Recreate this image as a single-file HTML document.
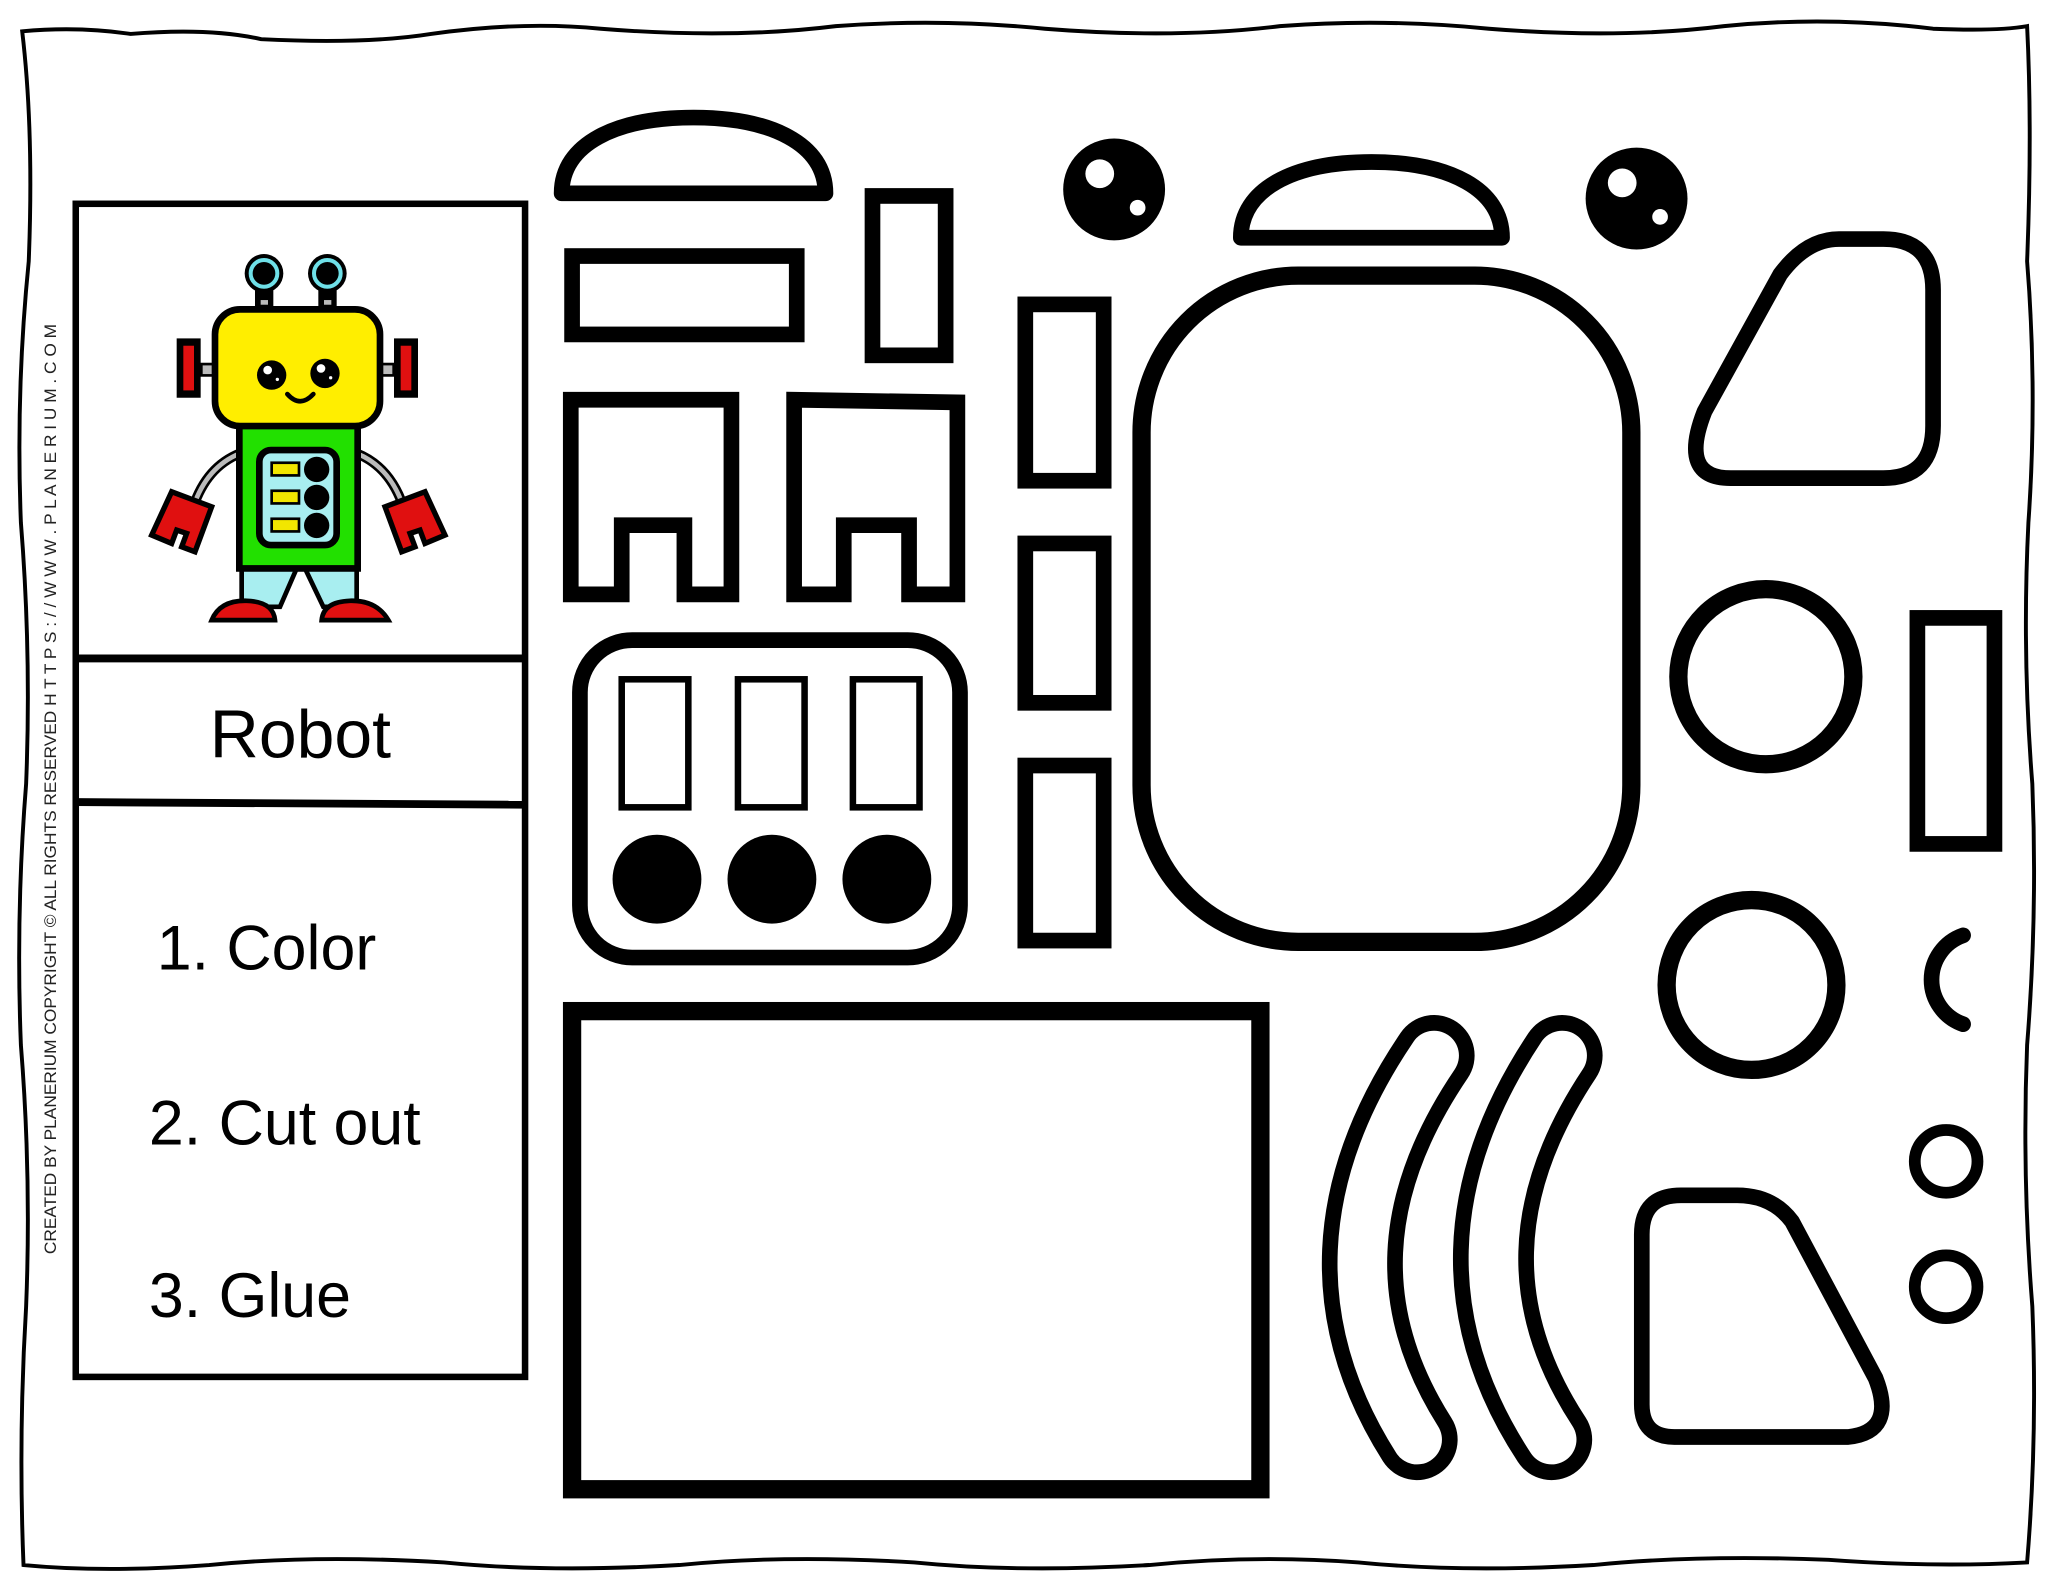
<!DOCTYPE html>
<html><head><meta charset="utf-8"><style>
html,body{margin:0;padding:0;background:#fff;}
svg{display:block;}
text{font-family:"Liberation Sans",sans-serif;}
</style></head><body>
<svg width="2048" height="1582" viewBox="0 0 1568 1211" preserveAspectRatio="none" xmlns="http://www.w3.org/2000/svg">
<rect width="1568" height="1211" fill="#fff"/>
<!-- wavy border -->
<path d="M17,24 Q60,20 100,26 Q160,21 200,30 Q280,34 330,26 Q400,16 460,22 Q560,30 640,20 Q720,14 800,22 Q900,30 980,20 Q1060,14 1140,22 Q1240,30 1320,20 Q1400,12 1480,22 Q1530,24 1552,20
 Q1556,100 1552,200 Q1560,300 1553,400 Q1548,500 1556,600 Q1560,700 1552,800 Q1548,900 1556,1000 Q1560,1100 1552,1196
 Q1480,1200 1400,1194 Q1300,1190 1220,1198 Q1120,1204 1040,1196 Q960,1190 880,1198 Q780,1204 700,1196 Q600,1190 520,1198 Q420,1204 340,1196 Q240,1190 160,1198 Q80,1204 18,1198
 Q14,1100 20,1000 Q24,900 16,800 Q12,700 20,600 Q24,500 16,400 Q12,300 22,200 Q26,100 17,24 Z" fill="none" stroke="#000" stroke-width="3"/>
<!-- left panel -->
<rect x="58" y="156" width="344" height="898" fill="none" stroke="#000" stroke-width="5"/>
<line x1="58" y1="504" x2="402" y2="504" stroke="#000" stroke-width="6"/>
<line x1="58" y1="614" x2="402" y2="616" stroke="#000" stroke-width="6"/>
<text x="230" y="580" font-size="52" text-anchor="middle">Robot</text>
<text x="120" y="742" font-size="48">1. Color</text>
<text x="114" y="876" font-size="48">2. Cut out</text>
<text x="114" y="1008" font-size="48">3. Glue</text>
<text transform="translate(43,960) rotate(-90)" font-size="13" textLength="712" lengthAdjust="spacingAndGlyphs" fill="#222">CREATED BY PLANERIUM COPYRIGHT © ALL RIGHTS RESERVED   H T T P S : / / W W W . P L A N E R I U M . C O M</text>
<!-- robot -->
<g transform="scale(0.765625) translate(140,240) scale(0.33333)">
 <rect x="345" y="140" width="55" height="80" fill="#000"/><rect x="362" y="180" width="22" height="14" fill="#bbb"/>
 <rect x="535" y="140" width="55" height="80" fill="#000"/><rect x="552" y="180" width="22" height="14" fill="#bbb"/>
 <circle cx="372" cy="100" r="58" fill="#000"/><circle cx="372" cy="100" r="40" fill="none" stroke="#6fe0e8" stroke-width="12"/>
 <circle cx="562" cy="100" r="58" fill="#000"/><circle cx="562" cy="100" r="40" fill="none" stroke="#6fe0e8" stroke-width="12"/>
 <rect x="110" y="295" width="72" height="178" fill="#000"/><rect x="130" y="317" width="32" height="134" fill="#e01010"/>
 <rect x="180" y="368" width="50" height="42" fill="#000"/><rect x="188" y="376" width="34" height="26" fill="#bbb"/>
 <rect x="762" y="295" width="72" height="178" fill="#000"/><rect x="782" y="317" width="32" height="134" fill="#e01010"/>
 <rect x="715" y="368" width="50" height="42" fill="#000"/><rect x="723" y="376" width="34" height="26" fill="#bbb"/>
 <!-- arms -->
 <path d="M300,640 Q200,680 160,800" fill="none" stroke="#000" stroke-width="30"/>
 <path d="M300,640 Q200,680 160,800" fill="none" stroke="#bbb" stroke-width="14"/>
 <path d="M650,640 Q750,680 790,800" fill="none" stroke="#000" stroke-width="30"/>
 <path d="M650,640 Q750,680 790,800" fill="none" stroke="#bbb" stroke-width="14"/>
 <path d="M95,755 L215,800 L165,935 L125,920 L140,880 L110,870 L95,910 L35,885 Z" fill="#e01010" stroke="#000" stroke-width="16" stroke-linejoin="miter"/>
 <path d="M855,755 L735,800 L785,935 L825,920 L810,880 L840,870 L855,910 L915,885 Z" fill="#e01010" stroke="#000" stroke-width="16"/>
 <!-- legs -->
 <path d="M305,985 L470,985 L420,1100 L305,1100 Z" fill="#a8eef0" stroke="#000" stroke-width="14"/>
 <path d="M495,985 L650,985 L650,1100 L550,1100 Z" fill="#a8eef0" stroke="#000" stroke-width="14"/>
 <path d="M215,1140 Q240,1080 320,1082 Q400,1085 405,1140 Z" fill="#e01010" stroke="#000" stroke-width="14"/>
 <path d="M545,1140 Q550,1085 630,1082 Q710,1080 745,1140 Z" fill="#e01010" stroke="#000" stroke-width="14"/>
 <!-- body -->
 <rect x="298" y="555" width="355" height="430" fill="#22e000" stroke="#000" stroke-width="20"/>
 <rect x="358" y="630" width="232" height="285" rx="35" fill="#a8eef0" stroke="#000" stroke-width="20"/>
 <rect x="395" y="668" width="82" height="38" fill="#f2e600" stroke="#000" stroke-width="8"/>
 <rect x="395" y="752" width="82" height="38" fill="#f2e600" stroke="#000" stroke-width="8"/>
 <rect x="395" y="836" width="82" height="38" fill="#f2e600" stroke="#000" stroke-width="8"/>
 <circle cx="530" cy="688" r="38" fill="#000"/><circle cx="530" cy="772" r="38" fill="#000"/><circle cx="530" cy="856" r="38" fill="#000"/>
 <!-- head -->
 <rect x="225" y="208" width="495" height="350" rx="75" fill="#ffee00" stroke="#000" stroke-width="20"/>
 <circle cx="395" cy="405" r="44" fill="#000"/><circle cx="383" cy="390" r="13" fill="#fff"/><circle cx="412" cy="418" r="5" fill="#fff"/>
 <circle cx="555" cy="400" r="44" fill="#000"/><circle cx="543" cy="385" r="13" fill="#fff"/><circle cx="572" cy="413" r="5" fill="#fff"/>
 <path d="M442,462 Q480,505 520,462" fill="none" stroke="#000" stroke-width="14" stroke-linecap="round"/>
</g>
<!-- cut out shapes -->
<g fill="none" stroke="#000" stroke-width="12" stroke-linejoin="round">
 <path d="M430,148 L632,148 C632,110 590,90 531,90 C472,90 430,110 430,148 Z"/>
 <rect x="438" y="196" width="172" height="60" stroke-linejoin="miter"/>
 <rect x="668" y="150" width="56" height="122" stroke-linejoin="miter"/>
 <rect x="785" y="233" width="60" height="135" stroke-linejoin="miter"/>
 <rect x="785" y="416" width="60" height="122" stroke-linejoin="miter"/>
 <rect x="785" y="586" width="60" height="134" stroke-linejoin="miter"/>
 <path d="M950,182 L1150,182 C1150,145 1110,124 1050,124 C990,124 950,145 950,182 Z"/>
 <rect x="874" y="211" width="375" height="510" rx="120" stroke-width="14"/>
 <path d="M1325,366 L1442,366 Q1480,366 1480,326 L1480,222 Q1480,183 1442,183 L1408,183 Q1383,183 1363,210 L1305,315 Q1285,366 1325,366 Z"/>
 <circle cx="1352" cy="518" r="67" stroke-width="14"/>
 <rect x="1468" y="473" width="59" height="173" stroke-linejoin="miter"/>
 <circle cx="1341" cy="754" r="65" stroke-width="14"/>
 <path d="M1503,716 A36,36 0 0,0 1503,784" stroke-width="12" stroke-linecap="round"/>
 <circle cx="1490" cy="889" r="24" stroke-width="9"/>
 <circle cx="1490" cy="985" r="24" stroke-width="9"/>
 <path d="M1282,1100 L1415,1100 Q1452,1096 1436,1055 L1372,935 Q1357,915 1330,915 L1287,915 Q1257,915 1257,945 L1257,1075 Q1257,1100 1282,1100 Z"/>
 <rect x="438" y="774" width="527" height="366" stroke-width="14" stroke-linejoin="miter"/>
 <path d="M437,306 H560 V455 H524 V402 H476 V455 H437 Z" stroke-linejoin="miter"/>
 <path d="M608,306 L733,308 V455 H696 V402 H646 V455 H608 Z" stroke-linejoin="miter"/>
 <rect x="444" y="490" width="291" height="243" rx="40"/>
 <rect x="476" y="520" width="51" height="98" stroke-width="5" stroke-linejoin="miter"/>
 <rect x="565" y="520" width="51" height="98" stroke-width="5" stroke-linejoin="miter"/>
 <rect x="653" y="520" width="51" height="98" stroke-width="5" stroke-linejoin="miter"/>
</g>
<circle cx="503" cy="673" r="34" fill="#000"/><circle cx="591" cy="673" r="34" fill="#000"/><circle cx="679" cy="673" r="34" fill="#000"/>
<circle cx="853" cy="145" r="39" fill="#000"/><circle cx="842" cy="133" r="11" fill="#fff"/><circle cx="871" cy="159" r="6" fill="#fff"/>
<circle cx="1253" cy="152" r="39" fill="#000"/><circle cx="1242" cy="140" r="11" fill="#fff"/><circle cx="1271" cy="166" r="6" fill="#fff"/>
<!-- bananas -->
<path d="M1098,808 Q995,960 1085,1102" fill="none" stroke="#000" stroke-width="62" stroke-linecap="round"/>
<path d="M1098,808 Q995,960 1085,1102" fill="none" stroke="#fff" stroke-width="38" stroke-linecap="round"/>
<path d="M1196,808 Q1095,960 1188,1102" fill="none" stroke="#000" stroke-width="62" stroke-linecap="round"/>
<path d="M1196,808 Q1095,960 1188,1102" fill="none" stroke="#fff" stroke-width="38" stroke-linecap="round"/>
</svg>
</body></html>
